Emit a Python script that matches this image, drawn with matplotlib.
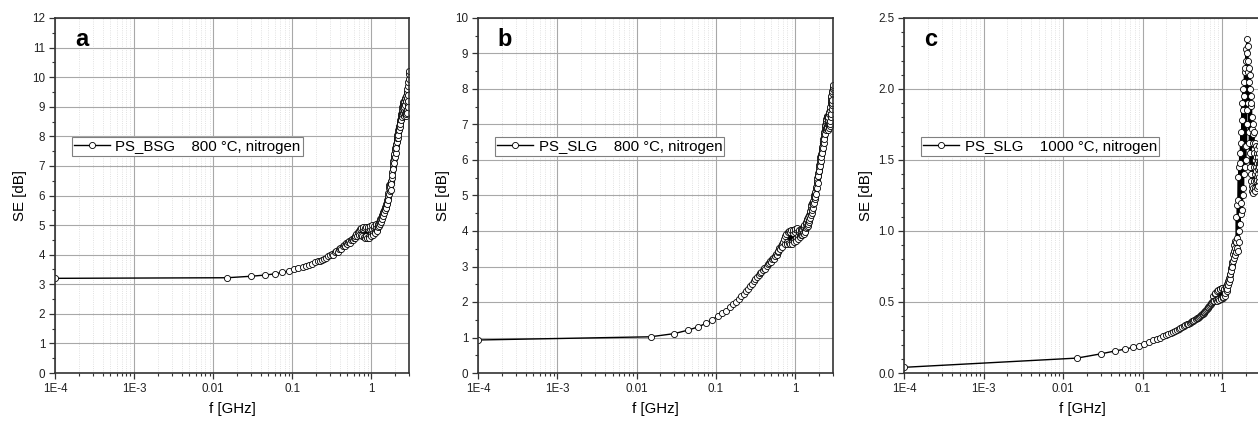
import matplotlib
matplotlib.use("Agg")
import matplotlib.pyplot as plt
from matplotlib.ticker import FixedLocator, FixedFormatter, MultipleLocator, LogLocator, NullFormatter

plt.rcParams['font.family'] = ['Liberation Sans', 'DejaVu Sans']

# Frequency sweep [GHz]
FREQ = [0.0001,
        0.015, 0.03, 0.045, 0.06, 0.075, 0.09, 0.105, 0.12, 0.135, 0.15,
        0.165, 0.18, 0.195, 0.21, 0.225, 0.24, 0.255, 0.27, 0.285, 0.3,
        0.315, 0.33, 0.345, 0.36, 0.375, 0.39, 0.405, 0.42, 0.435, 0.45,
        0.465, 0.48, 0.495, 0.51, 0.525, 0.54, 0.555, 0.57, 0.585, 0.6,
        0.615, 0.63, 0.645, 0.66, 0.675, 0.69, 0.705, 0.72, 0.735, 0.75,
        0.765, 0.78, 0.795, 0.81, 0.825, 0.84, 0.855, 0.87, 0.885, 0.9,
        0.915, 0.93, 0.945, 0.96, 0.975, 0.99, 1.005, 1.02, 1.035, 1.05,
        1.065, 1.08, 1.095, 1.11, 1.125, 1.14, 1.155, 1.17, 1.185, 1.2,
        1.215, 1.23, 1.245, 1.26, 1.275, 1.29, 1.305, 1.32, 1.335, 1.35,
        1.365, 1.38, 1.395, 1.41, 1.425, 1.44, 1.455, 1.47, 1.485, 1.5,
        1.515, 1.53, 1.545, 1.56, 1.575, 1.59, 1.605, 1.62, 1.635, 1.65,
        1.665, 1.68, 1.695, 1.71, 1.725, 1.74, 1.755, 1.77, 1.785, 1.8,
        1.815, 1.83, 1.845, 1.86, 1.875, 1.89, 1.905, 1.92, 1.935, 1.95,
        1.965, 1.98, 1.995, 2.01, 2.025, 2.04, 2.055, 2.07, 2.085, 2.1,
        2.115, 2.13, 2.145, 2.16, 2.175, 2.19, 2.205, 2.22, 2.235, 2.25,
        2.265, 2.28, 2.295, 2.31, 2.325, 2.34, 2.355, 2.37, 2.385, 2.4,
        2.415, 2.43, 2.445, 2.46, 2.475, 2.49, 2.505, 2.52, 2.535, 2.55,
        2.565, 2.58, 2.595, 2.61, 2.625, 2.64, 2.655, 2.67, 2.685, 2.7,
        2.715, 2.73, 2.745, 2.76, 2.775, 2.79, 2.805, 2.82, 2.835, 2.85,
        2.865, 2.88, 2.895, 2.91, 2.925, 2.94, 2.955, 2.97, 2.985, 3.0]

SE_A = [3.20,
        3.22, 3.27, 3.31, 3.35, 3.40, 3.45, 3.50, 3.54, 3.58, 3.62,
        3.66, 3.70, 3.74, 3.77, 3.80, 3.83, 3.86, 3.89, 3.94, 3.98,
        4.01, 3.99, 4.08, 4.12, 4.10, 4.18, 4.22, 4.19, 4.28, 4.32,
        4.30, 4.38, 4.36, 4.42, 4.45, 4.41, 4.50, 4.52, 4.49, 4.58,
        4.55, 4.64, 4.70, 4.62, 4.75, 4.80, 4.68, 4.86, 4.90, 4.66,
        4.62, 4.88, 4.92, 4.60, 4.58, 4.90, 4.94, 4.62, 4.57, 4.88,
        4.95, 4.64, 4.58, 4.86, 4.96, 4.70, 4.62, 4.88, 5.00, 4.72,
        4.66, 4.90, 4.98, 4.78, 4.72, 4.95, 5.02, 4.85, 4.80, 5.00,
        4.92, 5.05, 4.98, 5.10, 5.02, 5.15, 5.20, 5.12, 5.25, 5.30,
        5.22, 5.35, 5.40, 5.32, 5.45, 5.50, 5.42, 5.55, 5.60, 5.52,
        5.62, 5.70, 5.58, 5.75, 5.85, 5.72, 5.90, 6.00, 5.85, 6.10,
        6.25, 6.05, 6.35, 6.40, 6.15, 6.30, 6.45, 6.20, 6.50, 6.40,
        6.60, 6.80, 6.70, 6.95, 7.05, 6.90, 7.15, 7.25, 7.10, 7.35,
        7.40, 7.30, 7.55, 7.60, 7.45, 7.70, 7.75, 7.62, 7.85, 7.90,
        7.80, 7.95, 8.05, 7.95, 8.10, 8.20, 8.05, 8.25, 8.30, 8.20,
        8.35, 8.45, 8.30, 8.50, 8.55, 8.42, 8.60, 8.70, 8.55, 8.75,
        8.80, 8.65, 8.90, 9.00, 8.75, 8.95, 9.10, 8.80, 9.05, 9.15,
        8.85, 9.10, 9.20, 8.70, 9.00, 9.25, 8.75, 9.05, 9.30, 8.80,
        8.70, 9.20, 9.35, 8.85, 8.75, 9.30, 9.50, 8.90, 8.80, 9.45,
        9.60, 9.05, 9.00, 9.70, 9.85, 9.20, 9.40, 9.95, 10.10, 10.20]

SE_B = [0.93,
        1.02, 1.11, 1.21, 1.30, 1.40, 1.50, 1.60, 1.68, 1.76, 1.85,
        1.93, 2.01, 2.09, 2.16, 2.23, 2.30, 2.37, 2.44, 2.51, 2.58,
        2.64, 2.70, 2.76, 2.81, 2.84, 2.90, 2.95, 2.92, 3.02, 3.06,
        3.10, 3.15, 3.12, 3.20, 3.24, 3.22, 3.30, 3.34, 3.31, 3.40,
        3.45, 3.52, 3.48, 3.58, 3.62, 3.55, 3.70, 3.78, 3.62, 3.85,
        3.92, 3.68, 3.62, 3.96, 4.00, 3.66, 3.62, 3.98, 4.02, 3.70,
        3.64, 3.95, 4.04, 3.75, 3.68, 3.96, 4.05, 3.80, 3.72, 4.02,
        4.08, 3.85, 3.78, 3.98, 4.02, 3.86, 3.82, 4.00, 4.05, 3.90,
        3.88, 4.05, 4.10, 3.95, 3.92, 4.12, 4.18, 4.00, 3.98, 4.20,
        4.25, 4.08, 4.10, 4.30, 4.35, 4.15, 4.20, 4.40, 4.45, 4.25,
        4.30, 4.50, 4.55, 4.38, 4.45, 4.65, 4.72, 4.50, 4.60, 4.80,
        4.85, 4.65, 4.75, 4.95, 5.00, 4.80, 4.90, 5.05, 4.95, 5.10,
        5.20, 5.05, 5.25, 5.35, 5.20, 5.40, 5.50, 5.35, 5.55, 5.62,
        5.55, 5.70, 5.78, 5.68, 5.85, 5.92, 5.82, 6.00, 6.08, 5.98,
        6.10, 6.18, 6.08, 6.25, 6.32, 6.20, 6.38, 6.45, 6.35, 6.52,
        6.58, 6.48, 6.65, 6.72, 6.60, 6.80, 6.85, 6.72, 6.92, 6.98,
        6.85, 7.05, 7.10, 6.90, 7.15, 7.20, 6.95, 7.20, 7.25, 6.90,
        7.00, 7.25, 7.10, 6.85, 7.20, 7.30, 6.95, 7.05, 7.35, 6.90,
        6.95, 7.40, 7.50, 7.00, 7.10, 7.60, 7.65, 7.20, 7.30, 7.75,
        7.80, 7.45, 7.55, 7.90, 7.95, 7.60, 7.70, 8.00, 8.05, 8.12]

SE_C = [0.04,
        0.105, 0.135, 0.155, 0.168, 0.180, 0.192, 0.205, 0.218, 0.230, 0.240,
        0.250, 0.260, 0.268, 0.276, 0.284, 0.291, 0.298, 0.305, 0.312, 0.318,
        0.324, 0.330, 0.336, 0.342, 0.348, 0.353, 0.358, 0.364, 0.369, 0.374,
        0.380, 0.385, 0.390, 0.396, 0.400, 0.405, 0.412, 0.418, 0.422, 0.428,
        0.435, 0.442, 0.448, 0.455, 0.462, 0.470, 0.478, 0.485, 0.492, 0.500,
        0.540, 0.510, 0.505, 0.555, 0.565, 0.515, 0.510, 0.580, 0.585, 0.520,
        0.515, 0.590, 0.595, 0.525, 0.520, 0.598, 0.600, 0.530, 0.535, 0.595,
        0.590, 0.545, 0.560, 0.600, 0.610, 0.575, 0.590, 0.630, 0.645, 0.620,
        0.640, 0.670, 0.690, 0.660, 0.700, 0.740, 0.720, 0.760, 0.780, 0.750,
        0.790, 0.840, 0.810, 0.860, 0.900, 0.830, 0.880, 0.930, 0.850, 0.920,
        1.10, 0.88, 0.95, 1.18, 0.86, 1.22, 1.38, 0.92, 1.45, 1.00,
        1.55, 1.05, 1.48, 1.62, 1.12, 1.70, 1.20, 1.78, 1.90, 1.15,
        1.25, 1.85, 2.00, 1.30, 1.95, 1.40, 2.05, 2.12, 1.45, 1.60,
        2.15, 1.50, 2.20, 2.28, 1.60, 1.75, 2.25, 2.35, 1.85, 2.30,
        1.90, 2.20, 2.12, 1.70, 2.15, 2.05, 1.62, 1.55, 2.10, 2.00,
        1.45, 1.95, 1.88, 1.40, 1.35, 1.90, 1.80, 1.32, 1.72, 1.28,
        1.68, 1.75, 1.30, 1.62, 1.27, 1.58, 1.70, 1.35, 1.55, 1.45,
        1.40, 1.62, 1.30, 1.50, 1.28, 1.45, 1.60, 1.35, 1.52, 1.42,
        1.38, 1.55, 1.30, 1.48, 1.36, 1.58, 1.32, 1.50, 1.44, 1.40,
        1.52, 1.35, 1.47, 1.60, 1.38, 1.45, 1.55, 1.42, 1.50, 1.48]

LABELS = ["PS_BSG    800 \u00b0C, nitrogen",
          "PS_SLG    800 \u00b0C, nitrogen",
          "PS_SLG    1000 \u00b0C, nitrogen"]
LETTERS = ["a", "b", "c"]
YMAX = [12, 10, 2.5]
YSTEP = [1, 1, 0.5]
YMINOR = [0.5, 0.5, 0.1]
XTICKS = [1e-4, 1e-3, 1e-2, 1e-1, 1]
XTICKLABELS = ["1E-4", "1E-3", "0.01", "0.1", "1"]

W, H = 1258, 421
fig = plt.figure(figsize=(W / 100, H / 100), dpi=100)
fig.patch.set_facecolor("white")

boxes = [(55, 354), (478, 355), (904, 356)]
top_px, bot_px = 18, 373
series = [SE_A, SE_B, SE_C]

for i, ((x0, w), se) in enumerate(zip(boxes, series)):
    ax = fig.add_axes([x0 / W, (H - bot_px) / H, w / W, (bot_px - top_px) / H])
    ax.plot(FREQ, se, color="black", lw=1.0, marker="o", markersize=4.4,
            markerfacecolor="white", markeredgecolor="black", markeredgewidth=0.6,
            label=LABELS[i])
    ax.set_xscale("log")
    ax.set_xlim(1e-4, 3.0)
    ax.set_ylim(0, YMAX[i])
    ax.xaxis.set_major_locator(FixedLocator(XTICKS))
    ax.xaxis.set_major_formatter(FixedFormatter(XTICKLABELS))
    ax.xaxis.set_minor_locator(LogLocator(base=10, subs=[2, 3, 4, 5, 6, 7, 8, 9], numticks=20))
    ax.xaxis.set_minor_formatter(NullFormatter())
    ax.yaxis.set_major_locator(MultipleLocator(YSTEP[i]))
    ax.yaxis.set_minor_locator(MultipleLocator(YMINOR[i]))
    if i == 2:
        ax.yaxis.set_major_formatter(plt.FormatStrFormatter("%.1f"))
    else:
        ax.yaxis.set_major_formatter(plt.FormatStrFormatter("%d"))
    ax.grid(True, which="major", color="#a8a8a8", lw=0.8)
    ax.grid(True, which="minor", axis="x", color="#d8d8d8", lw=0.6, ls=":")
    ax.set_axisbelow(True)
    ax.tick_params(which="major", direction="out", length=4.5, width=0.9, labelsize=8.4,
                   pad=2.5, color="#333333", labelcolor="#222222")
    ax.tick_params(which="minor", direction="out", length=2.5, width=0.8, color="#333333")
    ax.tick_params(top=False, right=False)
    for s in ax.spines.values():
        s.set_color("#333333")
        s.set_linewidth(1.2)
    ax.set_xlabel("f [GHz]", fontsize=10.8, labelpad=5)
    ax.set_ylabel("SE [dB]", fontsize=10.8, labelpad=4)
    ax.text(0.056, 0.94, LETTERS[i], transform=ax.transAxes, fontsize=17,
            fontweight="bold", ha="left", va="center")
    leg = ax.legend(loc="upper left", bbox_to_anchor=(0.048, 0.664), fontsize=10.8,
                    frameon=True, fancybox=False, framealpha=1, edgecolor="#808080",
                    borderpad=0.15, handlelength=2.4, handletextpad=0.35,
                    borderaxespad=0.0)
    leg.get_frame().set_linewidth(0.8)

fig.savefig("out.png", dpi=100, facecolor="white")
